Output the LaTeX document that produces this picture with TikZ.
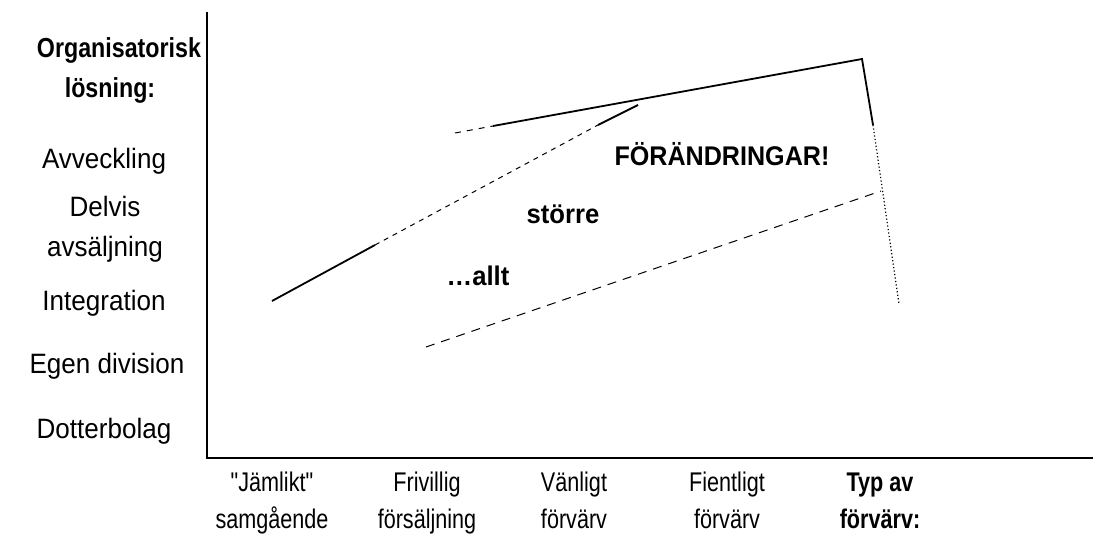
\documentclass[tikz,border=0pt]{standalone}
\usepackage{fontspec}
\setmainfont{Liberation Sans}[Ligatures=TeXOff]
\newcommand{\sq}[2]{\scalebox{#1}[1]{#2}}
\begin{document}
\begin{tikzpicture}[x=1pt,y=-1pt,
  txt/.style={anchor=base, inner sep=0pt, font=\fontsize{28}{32}\selectfont},
  small/.style={anchor=base, inner sep=0pt, font=\fontsize{27}{31}\selectfont},
  bold/.style={anchor=base, inner sep=0pt, font=\fontsize{27}{31}\selectfont\bfseries},
  head/.style={anchor=base, inner sep=0pt, font=\fontsize{27.5}{31}\selectfont\bfseries},
  axis/.style={line width=2pt},
  solidline/.style={line width=1.8pt},
  dashline/.style={line width=1pt, dash pattern=on 6pt off 6pt},
  dotline/.style={line width=1.2pt, dash pattern=on 1.2pt off 2.3pt}]
\useasboundingbox (0,0) rectangle (1093,535);

% axes
\coordinate (top) at (207,12);
\coordinate (origin) at (207,458);
\coordinate (right) at (1093,458);
\draw[axis] (top) -- (origin) -- (right);

% vertical axis title and levels
\node[head] (h1) at (119,58) {\sq{0.845}{Organisatorisk}};
\node[head] (h2) at (110,97) {\sq{0.845}{lösning:}};
\node[txt] (l1) at (104,168) {\sq{0.93}{Avveckling}};
\node[txt] (l2) at (105,216) {\sq{0.93}{Delvis}};
\node[txt] (l3) at (105,256) {\sq{0.93}{avsäljning}};
\node[txt] (l4) at (104,310) {\sq{0.93}{Integration}};
\node[txt] (l5) at (107,373) {\sq{0.93}{Egen division}};
\node[txt] (l6) at (104,438) {\sq{0.93}{Dotterbolag}};

% horizontal axis categories
\node[small] (b1a) at (272,491) {\sq{0.8}{"Jämlikt"}};
\node[small] (b1b) at (272,528) {\sq{0.8}{samgående}};
\node[small] (b2a) at (427,491) {\sq{0.8}{Frivillig}};
\node[small] (b2b) at (427,528) {\sq{0.8}{försäljning}};
\node[small] (b3a) at (574,491) {\sq{0.8}{Vänligt}};
\node[small] (b3b) at (574,528) {\sq{0.8}{förvärv}};
\node[small] (b4a) at (727,491) {\sq{0.8}{Fientligt}};
\node[small] (b4b) at (727,528) {\sq{0.8}{förvärv}};
\node[bold] (b5a) at (880,491) {\sq{0.8}{Typ av}};
\node[bold] (b5b) at (880,528) {\sq{0.8}{förvärv:}};

% inner labels
\node[bold] (t1) at (722,165) {\sq{0.93}{FÖRÄNDRINGAR!}};
\node[bold] (t2) at (563,223) {\sq{0.95}{större}};
\node[bold] (t3) at (478,285) {\sq{0.95}{…allt}};

% rising line: solid, dashed, solid
\coordinate (r0) at (272,301);
\coordinate (r1) at (375,245);
\coordinate (r2) at (598,125);
\coordinate (r3) at (638,105);
\draw[solidline] (r0) -- (r1);
\draw[dashline, dash pattern=on 5pt off 5pt] (r1) -- (r2);
\draw[solidline] (r2) -- (r3);

% upper envelope with apex
\coordinate (u0) at (455,133);
\coordinate (u1) at (493,126);
\coordinate (apex) at (862,59);
\coordinate (u2) at (873,125);
\coordinate (u3) at (899,304);
\draw[dashline] (u0) -- (u1);
\draw[solidline] (u1) -- (apex) -- (u2);
\draw[dotline] (u2) -- (u3);

% lower dashed line
\coordinate (d0) at (426,347);
\coordinate (d1) at (881,191);
\draw[dashline, dash pattern=on 9pt off 7pt] (d0) -- (d1);
\end{tikzpicture}
\end{document}
